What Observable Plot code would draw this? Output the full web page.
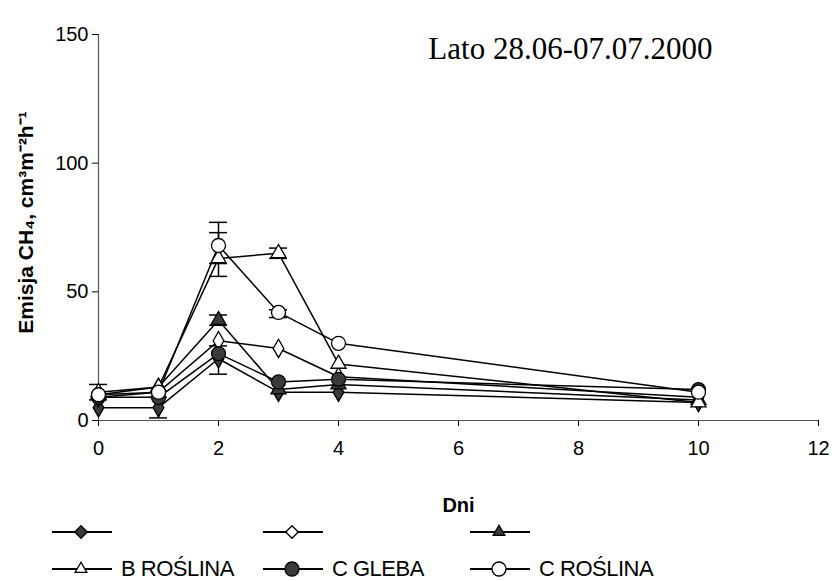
<!DOCTYPE html>
<html>
<head>
<meta charset="utf-8">
<script src="https://cdn.jsdelivr.net/npm/d3@7"></script>
<script src="https://cdn.jsdelivr.net/npm/@observablehq/plot@0.6"></script>
<style>
  html, body { margin: 0; padding: 0; background: white; }
  #wrap { width: 834px; height: 581px; position: relative; font-family: "Liberation Sans", Arial, sans-serif; overflow: hidden; }
  #legend { position: relative; height: 66px; font-size: 22px; line-height: 1; color: black; }
  .item { position: absolute; display: flex; align-items: center; height: 24px; }
  .item svg { display: block; margin-right: 7px; }
  .item span { letter-spacing: -0.5px; }
</style>
</head>
<body>
<div id="wrap"><div id="chart"></div><div id="legend"></div></div>
<script>
// ---- data ----
const days = [0, 1, 2, 3, 4, 10];
const seriesIds = ["s1", "s2", "s3", "s4", "s5", "s6"];
const legendLabels = ["", "", "", "B ROŚLINA", "C GLEBA", "C ROŚLINA"];
const s1 = [5, 5, 24, 11, 11, 7];     // filled diamond
const s2 = [9, 11, 31, 28, 17, 9];    // open diamond
const s3 = [10, 13, 39, 12, 14, 8];   // filled triangle
const s4 = [11, 13, 63, 65, 22, 7];   // open triangle (B ROŚLINA)
const s5 = [9, 9, 26, 15, 16, 12];    // filled circle (C GLEBA)
const s6 = [10, 11, 68, 42, 30, 11];  // open circle (C ROŚLINA)
const seriesValues = [s1, s2, s3, s4, s5, s6];
const seriesSymbols = ["diamond", "diamond", "triangle", "triangle", "circle", "circle"];
const seriesFilled = [true, false, true, false, true, false];

// error bars
const errSeries = ["s1", "s4", "s6", "s4", "s3", "s5", "s4", "s6"];
const errDay = [1, 0, 2, 2, 2, 2, 3, 3];
const errLo = [1, 8, 61, 56, 37, 18, 63, 40];
const errHi = [9, 14, 77, 73, 41, 29, 67, 43];

const xTicks = [0, 2, 4, 6, 8, 10, 12];
const yTicks = [0, 50, 100, 150];
const title = "Lato 28.06-07.07.2000";
const xLabel = "Dni";
const yLabel = "Emisja CH₄, cm³m⁻²h⁻¹";

// ---- build tables ----
const rows = [];
seriesIds.forEach((id, i) => days.forEach((d, j) => rows.push({series: id, day: d, value: seriesValues[i][j]})));
const errs = errSeries.map((s, i) => ({series: s, day: errDay[i], lo: errLo[i], hi: errHi[i]}));

const FILL = "#3a3a3a";
const rFor = sym => sym === "circle" ? 7 : 5.6;

const dotMarks = seriesIds.map((id, i) => Plot.dot(rows.filter(r => r.series === id), {
  x: "day", y: "value", symbol: seriesSymbols[i], r: rFor(seriesSymbols[i]),
  fill: seriesFilled[i] ? FILL : "white", stroke: "black", strokeWidth: 1.3
}));

const chart = Plot.plot({
  width: 834, height: 515,
  marginLeft: 98, marginRight: 16, marginTop: 34, marginBottom: 95,
  style: {fontFamily: "'Liberation Sans', Arial, sans-serif", fontSize: "20px", color: "black", background: "white"},
  x: {domain: [0, 12], ticks: xTicks, tickSize: 6, tickPadding: 14, label: null},
  y: {domain: [0, 150], ticks: yTicks, tickSize: 6, tickPadding: 4, label: null},
  marks: [
    Plot.ruleY([0], {stroke: "#555", strokeWidth: 1.2}),
    Plot.ruleX([0], {stroke: "#555", strokeWidth: 1.2}),
    Plot.line(rows, {x: "day", y: "value", z: "series", stroke: "black", strokeWidth: 1.5}),
    Plot.ruleX(errs, {x: "day", y1: "lo", y2: "hi", stroke: "black", strokeWidth: 1.5}),
    Plot.ruleY(errs, {y: "lo", x1: "day", x2: "day", insetLeft: -9, insetRight: -9, stroke: "black", strokeWidth: 1.5}),
    Plot.ruleY(errs, {y: "hi", x1: "day", x2: "day", insetLeft: -9, insetRight: -9, stroke: "black", strokeWidth: 1.5}),
    ...dotMarks,
    Plot.text([title], {frameAnchor: "top-right", dx: -106, dy: 2, textAnchor: "end", lineAnchor: "top",
      fontFamily: "'Liberation Serif', 'Times New Roman', serif", fontSize: 31}),
    Plot.text([xLabel], {frameAnchor: "bottom", dy: 77, lineAnchor: "top", fontWeight: "bold", fontSize: 20}),
    Plot.text([yLabel], {frameAnchor: "left", dx: -72, dy: -5, rotate: -90, textAnchor: "middle", lineAnchor: "middle", fontWeight: "bold", fontSize: 21})
  ]
});
document.getElementById("chart").appendChild(chart);

// ---- legend ----
const legend = document.getElementById("legend");
const colLeft = [52, 263, 470];
const rowTop = [5, 42];
const symbolPath = {
  diamond: d3.symbol(d3.symbolDiamond2, Math.PI * 5.6 * 5.6)(),
  triangle: d3.symbol(d3.symbolTriangle2, Math.PI * 5.6 * 5.6)(),
  circle: d3.symbol(d3.symbolCircle, Math.PI * 7 * 7)()
};
seriesIds.forEach((id, i) => {
  const div = document.createElement("div");
  div.className = "item";
  div.style.left = colLeft[i % 3] + "px";
  div.style.top = rowTop[Math.floor(i / 3)] + "px";
  const svg = d3.create("svg").attr("width", 62).attr("height", 24);
  svg.append("line").attr("x1", 0).attr("x2", 60).attr("y1", 12).attr("y2", 12).attr("stroke", "black").attr("stroke-width", 2);
  svg.append("path").attr("d", symbolPath[seriesSymbols[i]]).attr("transform", "translate(29,12)")
    .attr("fill", seriesFilled[i] ? FILL : "white").attr("stroke", "black").attr("stroke-width", 1.3);
  div.appendChild(svg.node());
  const span = document.createElement("span");
  span.textContent = legendLabels[i];
  div.appendChild(span);
  legend.appendChild(div);
});
</script>
</body>
</html>
